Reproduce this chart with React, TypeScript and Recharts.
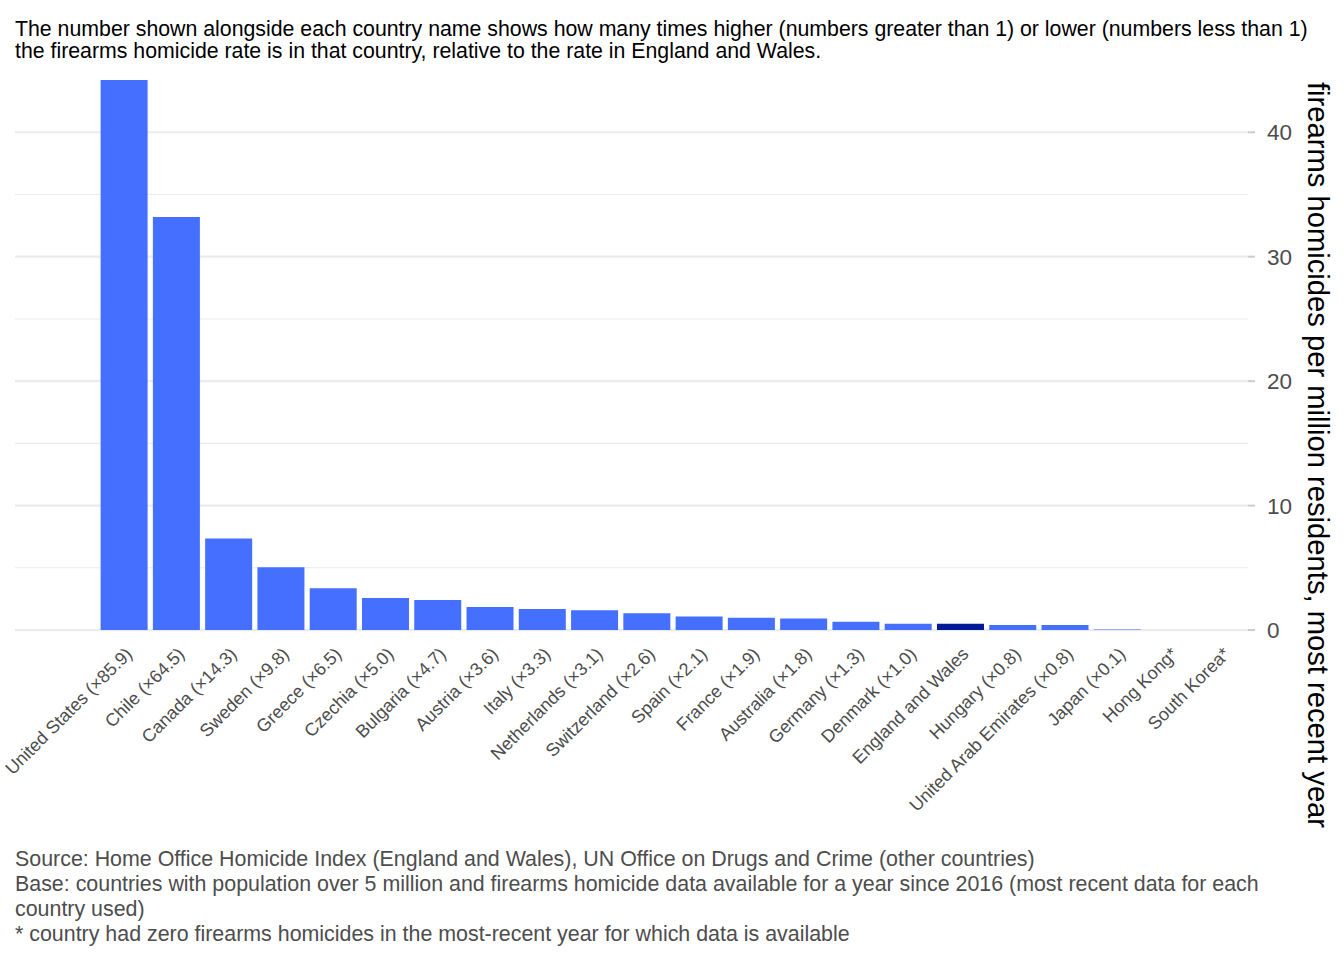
import React from "react";
import {
  BarChart,
  Bar,
  XAxis,
  YAxis,
  CartesianGrid,
  Cell,
} from "recharts";

// firearms homicides per million residents, most recent year
const countries = [
  "United States (×85.9)",
  "Chile (×64.5)",
  "Canada (×14.3)",
  "Sweden (×9.8)",
  "Greece (×6.5)",
  "Czechia (×5.0)",
  "Bulgaria (×4.7)",
  "Austria (×3.6)",
  "Italy (×3.3)",
  "Netherlands (×3.1)",
  "Switzerland (×2.6)",
  "Spain (×2.1)",
  "France (×1.9)",
  "Australia (×1.8)",
  "Germany (×1.3)",
  "Denmark (×1.0)",
  "England and Wales",
  "Hungary (×0.8)",
  "United Arab Emirates (×0.8)",
  "Japan (×0.1)",
  "Hong Kong*",
  "South Korea*",
];

const rates = [
  44.2, 33.2, 7.36, 5.05, 3.35, 2.58, 2.42, 1.85, 1.7, 1.6, 1.34, 1.08, 0.98,
  0.93, 0.67, 0.515, 0.515, 0.41, 0.41, 0.05, 0, 0,
];

const majorTicks = [0, 10, 20, 30, 40];
const minorTicks = [5, 15, 25, 35];

const HIGHLIGHT = "England and Wales";
const BAR_COLOR = "#456FFF";
const HIGHLIGHT_COLOR = "#001A96";
const FONT = "'Liberation Sans', Arial, Helvetica, sans-serif";

const data = countries.map((name, i) => ({ name, rate: rates[i] }));

const PLOT_LEFT = 15;
const PLOT_RIGHT = 1248;
const PLOT_TOP = 80;
const PLOT_BOTTOM = 640;
const WIDTH = 1344;
const HEIGHT = 960;
const Y_AXIS_WIDTH = 60;
const X_AXIS_HEIGHT = 200;
const Y_DOMAIN = [-0.8, 44.2];

function XTick(props: any) {
  const { x, payload } = props;
  const y = props.y + 6;
  return (
    <text
      x={x}
      y={y}
      transform={`rotate(-45, ${x}, ${y})`}
      textAnchor="end"
      dy="0.72em"
      fontSize={18}
      fill="#4D4D4D"
      fontFamily={FONT}>
      {payload.value}
    </text>
  );
}

function YTick(props: any) {
  const { x, y, payload } = props;
  return (
    <g>
      <line
        x1={PLOT_RIGHT}
        x2={PLOT_RIGHT + 7}
        y1={y}
        y2={y}
        stroke="#CCCCCC"
        strokeWidth={2}
      />
      <text
        x={x}
        y={y}
        dy="0.36em"
        fontSize={22.5}
        fill="#4D4D4D"
        fontFamily={FONT}>
        {payload.value}
      </text>
    </g>
  );
}

function AxisTitle() {
  const cx = 1318;
  const cy = 455;
  return (
    <text
      x={cx}
      y={cy}
      transform={`rotate(90, ${cx}, ${cy})`}
      textAnchor="middle"
      dy="0.36em"
      fontSize={29.2}
      fill="#000000"
      fontFamily={FONT}>
      firearms homicides per million residents, most recent year
    </text>
  );
}

export default function App() {
  return (
    <div
      style={{
        position: "absolute",
        left: 0,
        top: 0,
        width: WIDTH,
        height: HEIGHT,
        background: "#FFFFFF",
        fontFamily: FONT,
      }}>
      <div
        style={{
          position: "absolute",
          left: 15,
          top: 19.3,
          fontSize: 21.3,
          lineHeight: "21.8px",
          color: "#000000",
          whiteSpace: "nowrap",
        }}>
        The number shown alongside each country name shows how many times
        higher (numbers greater than 1) or lower (numbers less than 1)
        <br />
        the firearms homicide rate is in that country, relative to the rate in
        England and Wales.
      </div>
      <BarChart
        width={WIDTH}
        height={HEIGHT}
        data={data}
        barCategoryGap="5%"
        margin={{
          top: PLOT_TOP,
          left: PLOT_LEFT,
          right: WIDTH - PLOT_RIGHT - Y_AXIS_WIDTH,
          bottom: HEIGHT - PLOT_BOTTOM - X_AXIS_HEIGHT,
        }}>
        {/* minor gridlines (thin) then major gridlines (thicker) */}
        <CartesianGrid
          vertical={false}
          yAxisId="minor"
          syncWithTicks
          stroke="#EBEBEB"
          strokeWidth={1.1}
        />
        <CartesianGrid
          vertical={false}
          yAxisId="main"
          syncWithTicks
          stroke="#EBEBEB"
          strokeWidth={2.2}
        />
        <XAxis
          dataKey="name"
          interval={0}
          height={X_AXIS_HEIGHT}
          axisLine={false}
          tickLine={false}
          tickSize={0}
          tickMargin={0}
          padding={{ left: 83, right: 0 }}
          tick={<XTick />}
        />
        <YAxis
          yAxisId="minor"
          orientation="right"
          hide
          domain={Y_DOMAIN}
          allowDataOverflow
          ticks={minorTicks}
          interval={0}
        />
        <YAxis
          yAxisId="main"
          orientation="right"
          width={Y_AXIS_WIDTH}
          domain={Y_DOMAIN}
          allowDataOverflow
          ticks={majorTicks}
          interval={0}
          axisLine={false}
          tickLine={false}
          tickSize={7}
          tickMargin={12}
          tick={<YTick />}
          label={<AxisTitle />}
        />
        <Bar dataKey="rate" yAxisId="main" isAnimationActive={false}>
          {data.map((d) => (
            <Cell
              key={d.name}
              fill={d.name === HIGHLIGHT ? HIGHLIGHT_COLOR : BAR_COLOR}
            />
          ))}
        </Bar>
      </BarChart>
      <div
        style={{
          position: "absolute",
          left: 15,
          top: 846.8,
          width: 1260,
          fontSize: 21.4,
          lineHeight: "25px",
          color: "#4D4D4D",
        }}>
        Source: Home Office Homicide Index (England and Wales), UN Office on
        Drugs and Crime (other countries)
        <br />
        Base: countries with population over 5 million and firearms homicide
        data available for a year since 2016 (most recent data for each country
        used)
        <br />* country had zero firearms homicides in the most-recent year for
        which data is available
      </div>
    </div>
  );
}
